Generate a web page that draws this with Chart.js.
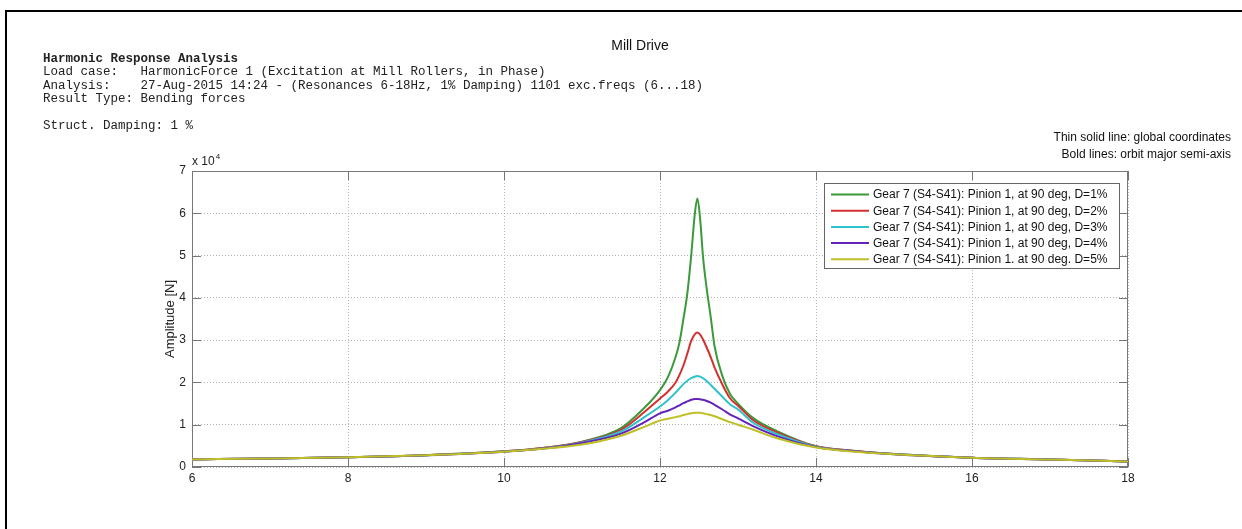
<!DOCTYPE html>
<html>
<head>
<meta charset="utf-8">
<script src="https://cdn.jsdelivr.net/npm/chart.js@4.4.0/dist/chart.umd.min.js"></script>
<style>
html,body{margin:0;padding:0;background:#fff;}
#wrap{position:relative;width:1242px;height:529px;overflow:hidden;background:#fff;}
#c{position:absolute;left:0;top:0;}
.fb{position:absolute;background:#000;}
.hdr{position:absolute;left:43px;top:53px;font-family:"Liberation Mono","Courier New",monospace;font-size:12.5px;line-height:13.4px;color:#222;white-space:pre;margin:0;}
.hdr b{font-weight:bold;}
.title{position:absolute;left:540px;width:200px;top:37px;text-align:center;font-family:"Liberation Sans",Arial,sans-serif;font-size:14px;color:#111;}
.note{position:absolute;right:11px;font-family:"Liberation Sans",Arial,sans-serif;font-size:12px;color:#111;text-align:right;white-space:pre;}
</style>
</head>
<body>
<div id="wrap">
<canvas id="c" width="1242" height="529"></canvas>
<div class="fb" style="left:5px;top:10px;width:1237px;height:2px;"></div>
<div class="fb" style="left:5px;top:10px;width:2px;height:519px;"></div>
<div class="title">Mill Drive</div>
<pre class="hdr"><b>Harmonic Response Analysis</b>
Load case:   HarmonicForce 1 (Excitation at Mill Rollers, in Phase)
Analysis:    27-Aug-2015 14:24 - (Resonances 6-18Hz, 1% Damping) 1101 exc.freqs (6...18)
Result Type: Bending forces

Struct. Damping: 1 %</pre>
<div class="note" style="top:130px;">Thin solid line: global coordinates</div>
<div class="note" style="top:147px;">Bold lines: orbit major semi-axis</div>
</div>
<script>
// ---- data ----
const freqs = [6,7,8,9,10,10.5,11,11.5,11.8,12,12.1,12.2,12.25,12.3,12.35,12.4,12.45,12.48,12.52,12.55,12.6,12.65,12.7,12.8,12.9,13,13.2,13.5,14,14.5,15,16,17,18];
const ampD1 = [1800,2000,2300,2800,3700,4500,6000,9200,14000,18200,21200,26000,29500,35000,41000,50000,60500,63500,57500,50000,42000,35500,28500,21500,17200,15000,11500,8500,4900,3800,3100,2200,1800,1300];
const ampD2 = [1800,2000,2300,2800,3700,4500,5900,8800,13000,16200,17800,20000,21800,24000,26800,29800,31500,31800,31200,30200,28200,26000,23500,19500,16200,14500,11000,8200,4900,3800,3100,2200,1800,1300];
const ampD3 = [1800,2000,2290,2780,3650,4400,5800,8400,11800,14300,15800,17600,18600,19600,20400,21000,21400,21500,21300,21000,20300,19400,18500,16600,14800,13600,10400,7800,4800,3700,3050,2200,1780,1300];
const ampD4 = [1800,2000,2290,2770,3620,4350,5700,7900,10600,12700,13300,14100,14600,15100,15500,15900,16100,16100,16000,15900,15600,15200,14700,13600,12400,11500,9600,7300,4700,3700,3000,2200,1770,1300];
const ampD5 = [1800,2000,2290,2770,3600,4300,5300,7400,9500,11000,11400,11800,12000,12300,12500,12700,12800,12800,12800,12700,12500,12300,12000,11300,10600,10000,8800,6800,4600,3600,3000,2200,1760,1300];
const seriesLabels = [
  "Gear 7 (S4-S41): Pinion 1, at 90 deg, D=1%",
  "Gear 7 (S4-S41): Pinion 1, at 90 deg, D=2%",
  "Gear 7 (S4-S41): Pinion 1, at 90 deg, D=3%",
  "Gear 7 (S4-S41): Pinion 1, at 90 deg, D=4%",
  "Gear 7 (S4-S41): Pinion 1. at 90 deg. D=5%"
];
const seriesColors = ["#3b9a3b","#d4302f","#2cc3cc","#6524b8","#bfbf26"];
const xTicks = [6,8,10,12,14,16,18];
const yTicks = [0,10000,20000,30000,40000,50000,60000,70000];

const FONT = '"Liberation Sans", Arial, Helvetica, sans-serif';
Chart.defaults.font.family = FONT;
Chart.defaults.color = '#222';

const allAmps = [ampD1, ampD2, ampD3, ampD4, ampD5];
const datasets = allAmps.map((arr, i) => ({
  label: seriesLabels[i],
  data: freqs.map((f, k) => ({x: f, y: arr[k]})),
  borderColor: seriesColors[i],
  backgroundColor: seriesColors[i],
  borderWidth: 2,
  pointRadius: 0,
  fill: false,
  cubicInterpolationMode: 'monotone',
  order: 5 - i
}));

const decoPlugin = {
  id: 'deco',
  beforeDatasetsDraw(chart) {
    const {ctx, chartArea: a, scales: {x, y}} = chart;
    ctx.save();
    ctx.strokeStyle = '#777';
    ctx.lineWidth = 1;
    ctx.beginPath();
    x.ticks.forEach(t => {
      const px = Math.round(x.getPixelForValue(t.value)) + 0.5;
      ctx.moveTo(px, a.bottom); ctx.lineTo(px, a.bottom - 9);
      ctx.moveTo(px, a.top); ctx.lineTo(px, a.top + 9);
    });
    y.ticks.forEach(t => {
      const py = Math.round(y.getPixelForValue(t.value)) + 0.5;
      ctx.moveTo(a.left, py); ctx.lineTo(a.left + 9, py);
      ctx.moveTo(a.right, py); ctx.lineTo(a.right - 9, py);
    });
    ctx.stroke();
    ctx.strokeRect(Math.round(a.left) + 0.5, Math.round(a.top) + 0.5, Math.round(a.width) - 1, Math.round(a.height) - 1);
    ctx.restore();
  },
  afterDatasetsDraw(chart) {
    const {ctx, chartArea: a} = chart;
    ctx.save();
    ctx.fillStyle = '#222';
    ctx.font = '12px ' + FONT;
    ctx.textBaseline = 'alphabetic';
    ctx.textAlign = 'left';
    ctx.fillText('x 10', a.left, a.top - 6);
    const w = ctx.measureText('x 10').width;
    ctx.font = '8px ' + FONT;
    ctx.fillText('4', a.left + w + 1, a.top - 12);
    const bx = 824, by = 183, bw = 295, bh = 85;
    ctx.fillStyle = '#fff';
    ctx.fillRect(bx, by, bw, bh);
    ctx.strokeStyle = '#666';
    ctx.lineWidth = 1;
    ctx.strokeRect(bx + 0.5, by + 0.5, bw, bh);
    ctx.font = '12px ' + FONT;
    ctx.textBaseline = 'middle';
    chart.data.datasets.forEach((ds, i) => {
      const yy = by + 11.5 + i * 16.2;
      ctx.strokeStyle = ds.borderColor;
      ctx.lineWidth = 2;
      ctx.beginPath();
      ctx.moveTo(bx + 7, yy); ctx.lineTo(bx + 45, yy);
      ctx.stroke();
      ctx.fillStyle = '#111';
      ctx.fillText(ds.label, bx + 49, yy + 0.5);
    });
    ctx.restore();
  }
};

new Chart(document.getElementById('c'), {
  type: 'line',
  data: { datasets },
  options: {
    responsive: false,
    animation: false,
    devicePixelRatio: 1,
    layout: { padding: { left: 0, right: 114, top: 171, bottom: 32 } },
    plugins: { legend: { display: false }, tooltip: { enabled: false }, title: { display: false } },
    scales: {
      x: {
        type: 'linear',
        min: xTicks[0], max: xTicks[xTicks.length - 1],
        afterFit(s) { s.height = 30; },
        afterBuildTicks(s) { s.ticks = xTicks.map(v => ({value: v})); },
        ticks: { padding: 4, font: { size: 12 }, color: '#222', maxRotation: 0 },
        grid: { color: '#b4b4b4', drawTicks: false, lineWidth: 1 },
        border: { display: false, dash: [1, 2] }
      },
      y: {
        type: 'linear',
        min: yTicks[0], max: yTicks[yTicks.length - 1],
        afterFit(s) { s.width = 192; },
        afterBuildTicks(s) { s.ticks = yTicks.map(v => ({value: v})); },
        ticks: { padding: 6, font: { size: 12 }, color: '#222', callback: v => String(v / 10000) },
        grid: { color: '#b4b4b4', drawTicks: false, lineWidth: 1 },
        border: { display: false, dash: [1, 2] },
        title: { display: true, text: 'Amplitude [N]', font: { size: 13 }, color: '#222', padding: { top: 163, bottom: 0 } }
      }
    }
  },
  plugins: [decoPlugin]
});
</script>
</body>
</html>
